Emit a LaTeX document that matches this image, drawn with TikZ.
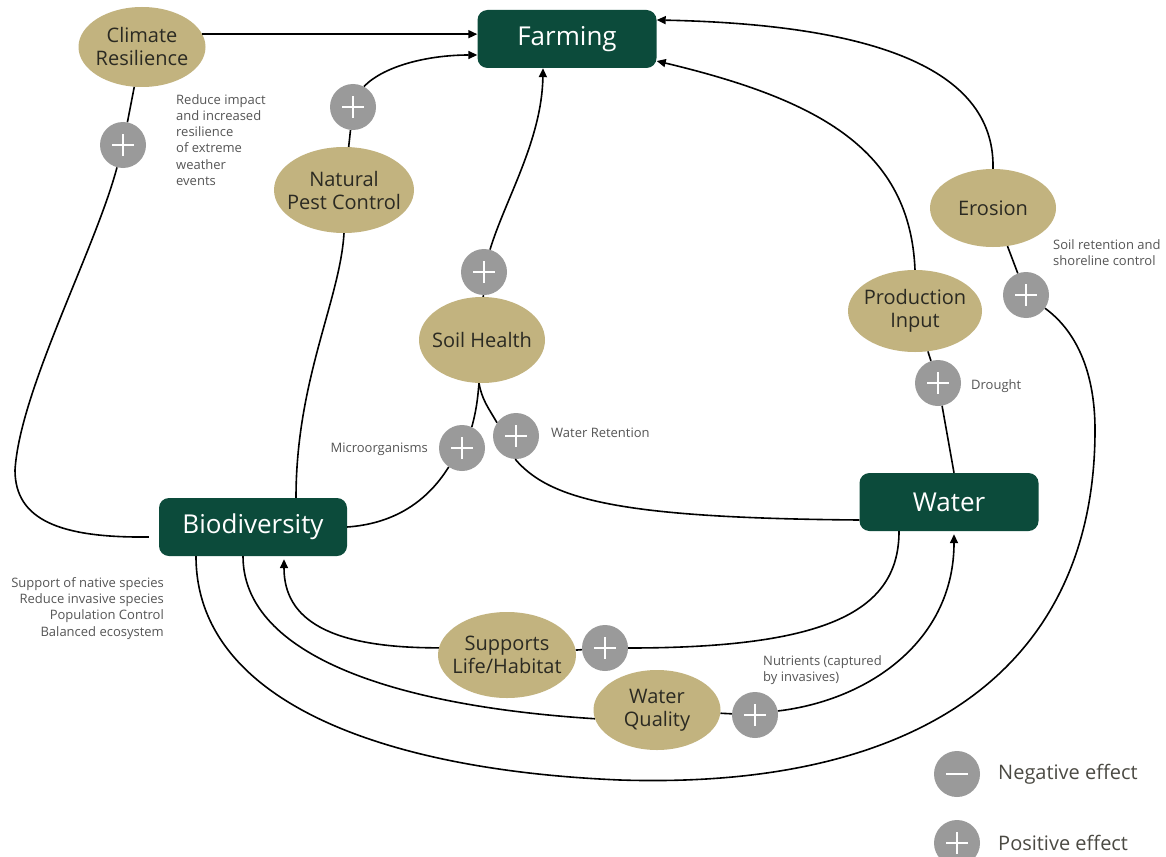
\documentclass[tikz,border=0pt]{standalone}
\usepackage{fontspec}
\setmainfont{Open Sans}
\usetikzlibrary{arrows.meta,shapes.geometric}
\definecolor{dgreen}{HTML}{0C4B3B}
\definecolor{tanc}{HTML}{C2B37F}
\definecolor{cgray}{HTML}{9A9A9A}
\definecolor{ntext}{HTML}{2B2A22}
\definecolor{ngray}{HTML}{555555}
\tikzset{
  box/.style={rectangle, rounded corners=10pt, fill=dgreen, text=white, font=\fontsize{26}{30}\selectfont, minimum height=58pt, inner sep=0pt},
  oval/.style={ellipse, fill=tanc, text=ntext, font=\fontsize{20}{23}\selectfont, align=center, inner xsep=-12pt, inner ysep=0pt},
  pc/.style={circle, fill=cgray, minimum size=46pt, inner sep=0pt,
    path picture={\draw[white, line width=1.5pt] ([xshift=-11pt]path picture bounding box.center) -- ([xshift=11pt]path picture bounding box.center);
                  \draw[white, line width=1.5pt] ([yshift=-11pt]path picture bounding box.center) -- ([yshift=11pt]path picture bounding box.center);}},
  mc/.style={circle, fill=cgray, minimum size=46pt, inner sep=0pt,
    path picture={\draw[white, line width=1.5pt] ([xshift=-11pt]path picture bounding box.center) -- ([xshift=11pt]path picture bounding box.center);}},
  conn/.style={line width=1.6pt, draw=black},
  arr/.style={conn, -{Triangle[length=9pt,width=8pt]}},
  note/.style={text=ngray, font=\fontsize{13}{16.3}\selectfont, inner sep=0pt},
  legendtext/.style={text=ntext!85, font=\fontsize{20}{24}\selectfont, inner sep=0pt}
}
\begin{document}
\begin{tikzpicture}[x=1pt,y=-1pt]
\useasboundingbox (0,0) rectangle (1166,856);
\clip (0,0) rectangle (1166,856);
\fill[white] (0,0) rectangle (1166,856);

% main boxes
\node[box, minimum width=179pt] (farm) at (567,39) {Farming};
\node[box, minimum width=188pt] (bio) at (253,527) {Biodiversity};
\node[box, minimum width=179pt] (water) at (949,502) {Water};

% ovals
\node[oval, minimum width=127pt, minimum height=80pt] (clim) at (142,47) {Climate\\Resilience};
\node[oval, minimum width=140pt, minimum height=86pt] (pest) at (344,190) {Natural\\Pest Control};
\node[oval, minimum width=126pt, minimum height=86pt] (soil) at (482,340) {Soil Health};
\node[oval, minimum width=126pt, minimum height=78pt] (eros) at (993,208) {Erosion};
\node[oval, minimum width=134pt, minimum height=82pt] (prod) at (915,311) {Production\\Input};
\node[oval, minimum width=138pt, minimum height=86pt] (supp) at (507,655) {Supports\\Life/Habitat};
\node[oval, minimum width=127pt, minimum height=80pt] (wq) at (657,710) {Water\\Quality};

% plus circles
\node[pc] (pClim) at (123,145) {};
\node[pc] (pPest) at (353,107) {};
\node[pc] (pSoil) at (484,272) {};
\node[pc] (pMicro) at (462,448) {};
\node[pc] (pWret) at (516,436) {};
\node[pc] (pDrought) at (938,383) {};
\node[pc] (pEros) at (1026,295) {};
\node[pc] (pSupp) at (605,648) {};
\node[pc] (pWq) at (755,715) {};

% legend
\node[mc] (lminus) at (957,774) {};
\node[pc] (lplus) at (957,843) {};
\node[legendtext, anchor=west] (lneg) at (998,774) {Negative effect};
\node[legendtext, anchor=west] (lpos) at (998,843) {Positive effect};

% notes
\node[note, anchor=north west, align=left] (nClim) at (176,94) {Reduce impact\\and increased\\resilience\\of extreme\\weather\\events};
\node[note, anchor=north west, align=left] (nEros) at (1053,239) {Soil retention and\\shoreline control};
\node[note, anchor=west] (nDrought) at (971,386) {Drought};
\node[note, anchor=east] (nMicro) at (428,449) {Microorganisms};
\node[note, anchor=west] (nWret) at (551,433) {Water Retention};
\node[note, anchor=north west, align=left] (nNutr) at (763,655) {Nutrients (captured\\by invasives)};
\node[note, anchor=north east, align=right] (nBio) at (164,577) {Support of native species\\Reduce invasive species\\Population Control\\Balanced ecosystem};

% connectors to Farming
\draw[arr] (clim.12) -- (clim.12 -| farm.west);
\draw[conn] (pest) -- (pPest);
\draw[arr] (pPest.62) .. controls (385,65) and (430,55) .. ([yshift=-16pt]farm.west);
\draw[conn] (soil) -- (pSoil);
\draw[arr] (pSoil.75) .. controls (505,200) and (542,140) .. ([xshift=-24pt]farm.south);
\draw[arr] (prod.north) .. controls (910,150) and (820,100) .. ([yshift=-22pt]farm.east);
\draw[arr] (eros.north) .. controls (995,80) and (900,25) .. ([yshift=19pt]farm.east);

% Climate resilience to biodiversity
\draw[conn] (clim) -- (pClim);
\draw[conn] (pClim.255) .. controls (95,250) and (20,390) .. (15,470) .. controls (15,520) and (60,538) .. ([xshift=-10pt,yshift=-10pt]bio.west);

% pest control to biodiversity
\draw[conn] (pest.south) .. controls (340,300) and (296,380) .. ([xshift=43pt]bio.north);

% soil health branches
\draw[conn] ([xshift=-3pt]soil.south) to[out=-95,in=75] (pMicro.65);
\draw[conn] ([xshift=-3pt]soil.south) to[out=-80,in=120] (pWret.145);
\draw[conn] (pMicro.235) .. controls (425,505) and (390,524) .. (bio.east);
\draw[conn] (pWret.268) .. controls (550,500) and (620,518) .. ([yshift=-18pt]water.west);

% water - drought - production input
\draw[conn] ([xshift=5pt]water.north) -- (pDrought);
\draw[conn] (pDrought) -- (prod);

% erosion
\draw[conn] (eros) -- (pEros);
\draw[conn] ([xshift=-57pt]bio.south) .. controls (196,700) and (380,770) .. (620,780) .. controls (930,790) and (1095,660) .. (1095,430) .. controls (1095,370) and (1075,330) .. (pEros.-35);

% supports life / habitat
\draw[conn] ([xshift=-50pt]water.south) .. controls (899,610) and (830,648) .. (pSupp.east);
\draw[conn] (pSupp) -- (supp);
\draw[arr] (supp.174) .. controls (330,648) and (284,620) .. ([xshift=31pt,yshift=-3pt]bio.south);

% water quality
\draw[conn] ([xshift=-10pt]bio.south) .. controls (243,650) and (380,705) .. (wq.188);
\draw[conn] (wq) -- (pWq);
\draw[arr] (pWq.10) .. controls (870,700) and (954,640) .. ([xshift=5pt,yshift=-3pt]water.south);
\end{tikzpicture}
\end{document}
